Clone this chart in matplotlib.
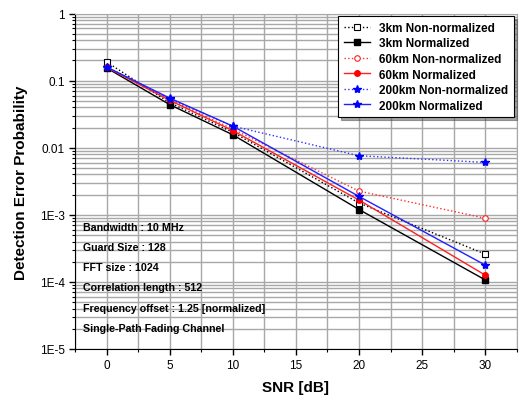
import matplotlib
matplotlib.use("Agg")
import matplotlib.pyplot as plt
from matplotlib.ticker import MultipleLocator, FixedLocator, FixedFormatter, LogLocator, NullFormatter

plt.rcParams['font.family'] = ['Liberation Sans', 'DejaVu Sans']

snr = [0, 5, 10, 20, 30]
km3_nonnorm = [0.19, 0.047, 0.017, 1.5e-3, 2.6e-4]
km3_norm = [0.155, 0.044, 0.0156, 1.2e-3, 1.07e-4]
km60_nonnorm = [0.16, 0.052, 0.019, 2.26e-3, 8.9e-4]
km60_norm = [0.158, 0.051, 0.018, 1.66e-3, 1.26e-4]
km200_nonnorm = [0.16, 0.054, 0.021, 7.6e-3, 6.05e-3]
km200_norm = [0.16, 0.055, 0.021, 1.88e-3, 1.78e-4]

x_ticks = [0, 5, 10, 15, 20, 25, 30]
y_ticks = [1, 0.1, 0.01, 1e-3, 1e-4, 1e-5]
y_tick_labels = ["1", "0.1", "0.01", "1E-3", "1E-4", "1E-5"]

notes = [
    "Bandwidth : 10 MHz",
    "Guard Size : 128",
    "FFT size : 1024",
    "Correlation length : 512",
    "Frequency offset : 1.25 [normalized]",
    "Single-Path Fading Channel",
]

fig = plt.figure(figsize=(5.21, 4.06), dpi=100)
ax = fig.add_axes([0.144, 0.138, 0.848, 0.826])

ms = 4
ax.plot(snr, km3_nonnorm, color='black', ls=':', lw=1, marker='s', ms=ms,
        mfc='white', mec='black', mew=0.8, label='3km Non-normalized')
ax.plot(snr, km3_norm, color='black', ls='-', lw=1, marker='s', ms=ms,
        mfc='black', mec='black', label='3km Normalized')
ax.plot(snr, km60_nonnorm, color='#ff3030', ls=':', lw=1, marker='o', ms=ms,
        mfc='white', mec='#ff2020', mew=0.8, label='60km Non-normalized')
ax.plot(snr, km60_norm, color='#ff2020', ls='-', lw=1, marker='o', ms=ms,
        mfc='#ff0000', mec='#ff0000', label='60km Normalized')
ax.plot(snr, km200_nonnorm, color='#3030ff', ls=':', lw=1, marker='*', ms=ms + 2,
        mfc='#0000ff', mec='#0000ff', label='200km Non-normalized')
ax.plot(snr, km200_norm, color='#2020ff', ls='-', lw=1, marker='*', ms=ms + 2,
        mfc='#0000ff', mec='#0000ff', label='200km Normalized')

ax.set_yscale('log')
ax.set_xlim(-2.5, 32.5)
ax.set_ylim(1e-5, 1)

ax.xaxis.set_major_locator(FixedLocator(x_ticks))
ax.xaxis.set_minor_locator(MultipleLocator(2.5))
ax.yaxis.set_major_locator(FixedLocator(y_ticks))
ax.yaxis.set_major_formatter(FixedFormatter(y_tick_labels))
ax.yaxis.set_minor_locator(LogLocator(base=10, subs=range(2, 10), numticks=20))
ax.yaxis.set_minor_formatter(NullFormatter())

ax.grid(True, which='both', color='#a8a8a8', lw=1)
ax.set_axisbelow(True)
ax.tick_params(which='major', direction='out', length=4, width=1, labelsize=8.5)
ax.tick_params(which='minor', direction='out', length=2.5, width=0.8)
for side in ('top', 'right'):
    ax.spines[side].set_color('#a8a8a8')
for side in ('left', 'bottom'):
    ax.spines[side].set_color('black')

ax.set_xlabel('SNR [dB]', fontsize=11, fontweight='bold', labelpad=6)
ax.set_ylabel('Detection Error Probability', fontsize=11, fontweight='bold', labelpad=8)

leg = ax.legend(loc='upper right', prop={'weight': 'bold', 'size': 8.5},
                frameon=True, fancybox=False, shadow=True, framealpha=1,
                edgecolor='black', handlelength=2.2, labelspacing=0.3,
                borderpad=0.5, borderaxespad=0.2)
leg.get_frame().set_linewidth(0.8)

y0 = 0.365
for i, t in enumerate(notes):
    ax.text(0.017, y0 - i * 0.0605, t, transform=ax.transAxes, fontsize=7.7,
            fontweight='bold', va='center', ha='left')

fig.savefig('out.png', dpi=100)
